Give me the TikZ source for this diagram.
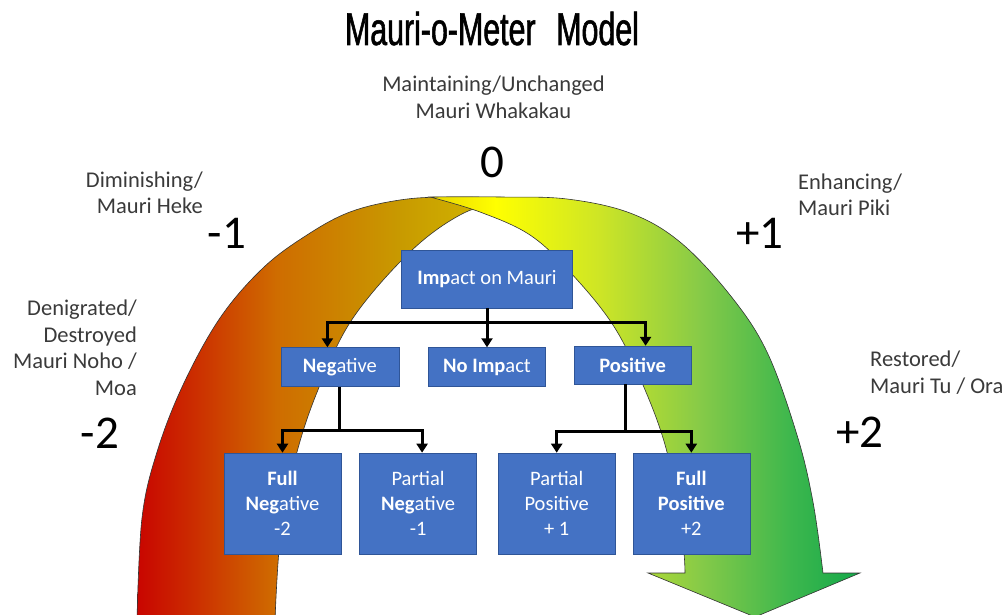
\documentclass[tikz,border=0pt]{standalone}
\usepackage{fontspec}
\setmainfont{Carlito}
\newfontfamily\titlefont[FakeStretch=0.66,FakeBold=1.2]{Liberation Sans}
\usetikzlibrary{positioning,arrows.meta}
\definecolor{boxfill}{HTML}{4472C4}
\definecolor{boxline}{HTML}{2F5597}
\definecolor{labtext}{HTML}{3A3A3A}
% back band
\definecolor{ba}{HTML}{C80000}
\definecolor{bb}{HTML}{CC3200}
\definecolor{bc}{HTML}{CF6C00}
\definecolor{bd}{HTML}{C89A00}
\definecolor{be}{HTML}{D6C800}
% front arrow
\definecolor{fa}{HTML}{E8D400}
\definecolor{fb}{HTML}{FFFF00}
\definecolor{fc}{HTML}{CDE526}
\definecolor{fd}{HTML}{86CA48}
\definecolor{fe}{HTML}{3DB74D}
\definecolor{ff}{HTML}{12A84A}
\tikzset{
  stage/.style = {draw=boxline,line width=0.6pt,fill=boxfill,text=white,font=\fontsize{20.5}{25}\selectfont,align=center,inner sep=0pt,minimum width=117pt},
  branch/.style = {line width=3pt,black},
  branchto/.style = {branch,-{Triangle[length=9pt,width=11pt]}},
  lab/.style = {text=labtext,font=\fontsize{22.5}{26.5}\selectfont,inner sep=0pt},
  score/.style = {font=\fontsize{47}{47}\selectfont,inner sep=0pt,anchor=base},
  rim/.style = {draw=black!80,line width=0.6pt}
}
\newcommand{\backband}{plot[smooth,tension=0.6] coordinates {(137,620) (142,518) (157,452) (183,385) (220,318) (263,268) (307,235) (350,212) (400,200) (450,197) (545,198)}
  -- plot[smooth,tension=0.6] coordinates {(545,198) (500,203) (460,215) (410,252) (353,318) (320,385) (297,452) (281,530) (275,620)} -- cycle}
\newcommand{\frontarrow}{plot[smooth,tension=0.6] coordinates {(430,197) (500,197) (567,199) (630,213) (680,242) (730,295) (767,352) (797,435) (813,502) (823,573)}
  -- (860,573) -- (755,617) -- (648,573) -- (685,573)
  -- plot[smooth,tension=0.6] coordinates {(685,573) (682,535) (667,452) (643,385) (613,325) (570,272) (530,235) (480,212) (430,197)} -- cycle}

\begin{document}
\begin{tikzpicture}[x=1pt,y=-1pt]
\useasboundingbox (0,0) rectangle (1005,615);

% the meter
\begin{scope}
  \clip \backband;
  \shade[left color=ba,right color=bb] (130,150) rectangle (201,625);
  \shade[left color=bb,right color=bc] (200,150) rectangle (276,625);
  \shade[left color=bc,right color=bd] (275,150) rectangle (401,625);
  \shade[left color=bd,right color=be] (400,150) rectangle (550,625);
\end{scope}
\draw[rim] \backband;

\begin{scope}
  \clip \frontarrow;
  \shade[left color=fa,right color=fb] (425,150) rectangle (496,625);
  \shade[left color=fb,right color=fc] (495,150) rectangle (601,625);
  \shade[left color=fc,right color=fd] (600,150) rectangle (701,625);
  \shade[left color=fd,right color=fe] (700,150) rectangle (791,625);
  \shade[left color=fe,right color=ff] (790,150) rectangle (865,625);
\end{scope}
\draw[rim] \frontarrow;

\node[anchor=base,font=\titlefont\fontsize{46}{46}\selectfont,inner sep=0pt] (title) at (492,45) {Mauri-o-Meter\hspace{0.45em}Model};

% scale labels (base = last line)
\node[lab,align=center,anchor=base] (maintain) at (493.5,118.5) {Maintaining/Unchanged\\Mauri Whakakau};
\node[lab,align=right,anchor=base east] (diminish) at (203,214) {Diminishing/\\Mauri Heke};
\node[lab,align=right,anchor=base east] (denigrate) at (137,395) {Denigrated/\\Destroyed\\Mauri Noho /\\Moa};
\node[lab,align=left,anchor=base west] (enhance) at (798,216) {Enhancing/\\Mauri Piki};
\node[lab,align=left,anchor=base west] (restore) at (870,393) {Restored/\\Mauri Tu / Ora};

\node[score] (zero) at (492,178) {0};
\node[score] (mone) at (227,248) {-1};
\node[score] (pone) at (760,248) {+1};
\node[score] (mtwo) at (100,448) {-2};
\node[score] (ptwo) at (860,447) {+2};

% tree
\node[stage,minimum width=171pt,minimum height=58pt] (impact) at (487,279) {\textbf{Imp}act on Mauri};
\node[stage,minimum height=39pt,below=39pt of impact] (none) {\textbf{No Imp}act};
\node[stage,minimum width=118pt,minimum height=39pt,left=29pt of none] (neg) {\textbf{Neg}ative};
\node[stage,minimum height=38pt,right=28pt of none,yshift=2pt] (pos) {\textbf{Positive}};

\node[stage,minimum height=101pt] (fullneg) at (282.5,503.5) {\textbf{Full}\\\textbf{Neg}ative\\-2};
\node[stage,minimum height=101pt,right=18pt of fullneg] (partneg) {Partial\\\textbf{Neg}ative\\-1};
\node[stage,minimum height=101pt,right=21pt of partneg] (partpos) {Partial\\Positive\\+ 1};
\node[stage,minimum height=101pt,right=17pt of partpos] (fullpos) {\textbf{Full}\\\textbf{Positive}\\+2};

\draw[branch] (impact.south) -- ++(0,14) coordinate (split);
\draw[branchto] (split) -| ([xshift=-12.5pt]neg.north);
\draw[branchto] (split) -- (none.north);
\draw[branchto] (split) -| ([xshift=13pt]pos.north);

\draw[branch] (neg.south) -- ++(0,44) coordinate (negsplit);
\draw[branchto] (negsplit) -| (fullneg.north);
\draw[branchto] (negsplit) -| ([xshift=4pt]partneg.north);

\draw[branch] ([xshift=-7pt]pos.south) -- ++(0,47) coordinate (possplit);
\draw[branchto] (possplit) -| (partpos.north);
\draw[branchto] (possplit) -| (fullpos.north);
\end{tikzpicture}
\end{document}
